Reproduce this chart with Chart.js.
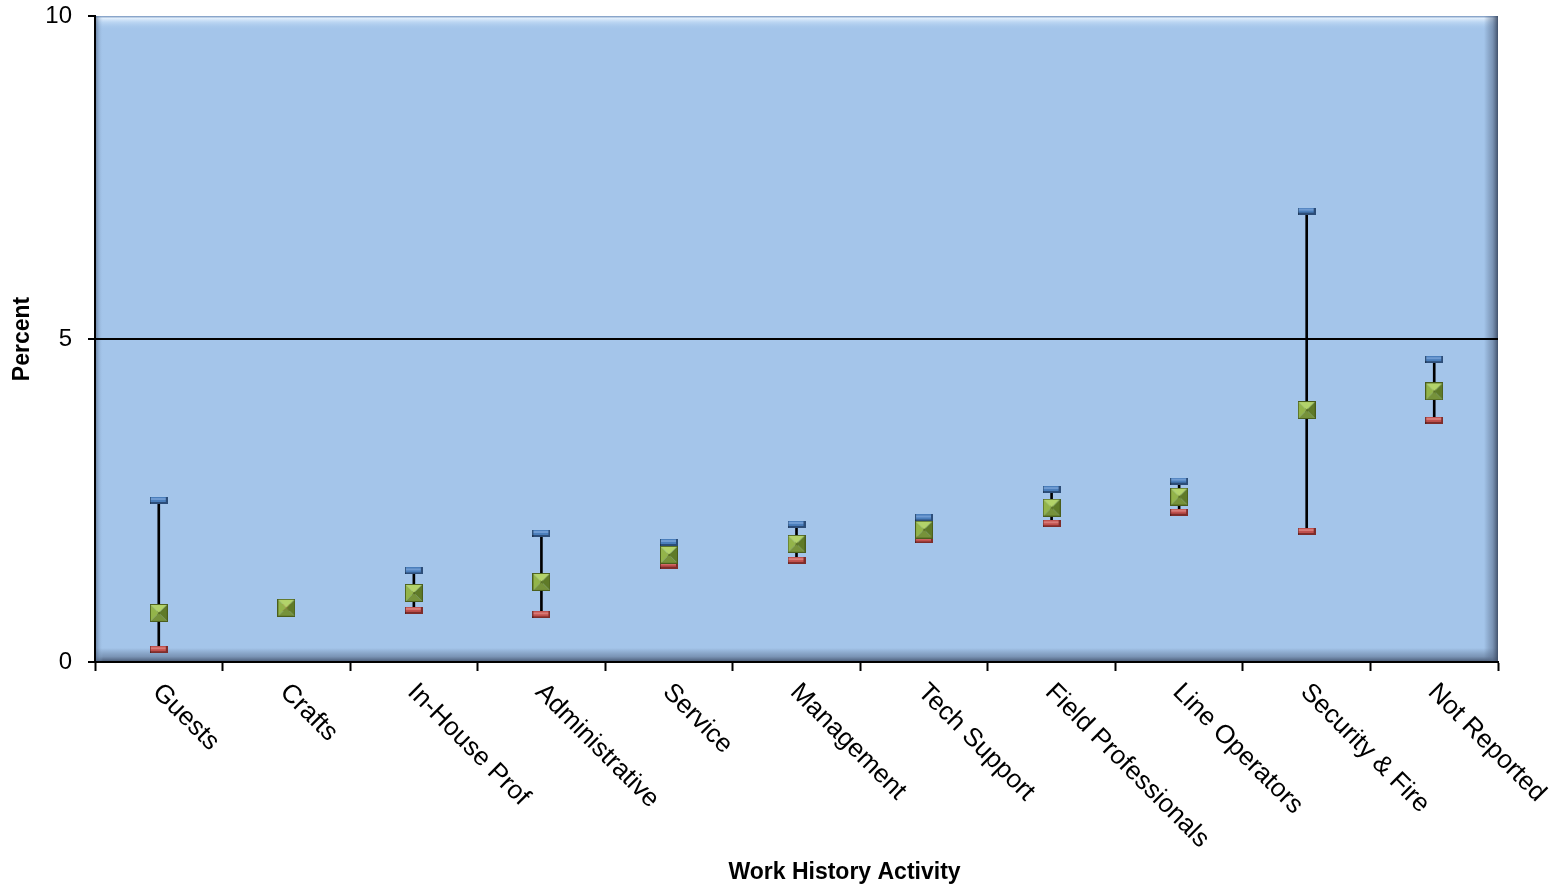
<!DOCTYPE html>
<html>
<head>
<meta charset="utf-8">
<script src="https://cdn.jsdelivr.net/npm/chart.js@4/dist/chart.umd.min.js"></script>
<style>
  html, body { margin: 0; padding: 0; background: #fff; }
  #wrap { width: 1564px; height: 887px; position: relative; }
</style>
</head>
<body>
<div id="wrap"><canvas id="cv"></canvas></div>
<script>
// Work history activity: high / mean / low percent per category
const categories = ["Guests", "Crafts", "In-House Prof", "Administrative", "Service", "Management",
  "Tech Support", "Field Professionals", "Line Operators", "Security & Fire", "Not Reported"];
const highVals = [2.50, 0.84, 1.41, 1.99, 1.85, 2.13, 2.23, 2.67, 2.80, 6.98, 4.68];
const midVals  = [0.76, 0.84, 1.07, 1.24, 1.66, 1.83, 2.05, 2.39, 2.56, 3.90, 4.19];
const lowVals  = [0.19, 0.84, 0.80, 0.73, 1.50, 1.57, 1.89, 2.14, 2.32, 2.02, 3.74];
const yTicks = [0, 5, 10];

const FONT = "Liberation Sans, Arial, sans-serif";

// small bevelled dash used for the high / low marks
function dash(base, light, dark) {
  const c = document.createElement("canvas");
  c.width = 18; c.height = 7;
  const g = c.getContext("2d");
  g.fillStyle = base; g.fillRect(0, 0, 18, 7);
  g.fillStyle = light; g.fillRect(1, 1, 16, 2);
  g.fillStyle = dark; g.fillRect(0, 5, 18, 2);
  g.fillRect(16, 0, 2, 7);
  g.fillStyle = "rgba(0,0,0,0.35)"; g.fillRect(0, 0, 1, 7);
  return c;
}

// pyramid-bevelled square for the mean
function pyramid() {
  const s = 18, c = document.createElement("canvas");
  c.width = s; c.height = s;
  const g = c.getContext("2d");
  const tri = (pts, col) => {
    g.beginPath(); g.moveTo(pts[0], pts[1]);
    for (let i = 2; i < pts.length; i += 2) g.lineTo(pts[i], pts[i + 1]);
    g.closePath(); g.fillStyle = col; g.fill();
  };
  const m = s / 2;
  tri([0, 0, s, 0, m, m], "#b3d36a");
  tri([0, 0, m, m, 0, s], "#93b44a");
  tri([s, 0, s, s, m, m], "#5f7a28");
  tri([0, s, m, m, s, s], "#76923a");
  g.strokeStyle = "#4a5e1c"; g.lineWidth = 1;
  g.strokeRect(0.5, 0.5, s - 1, s - 1);
  return c;
}

const hiMark = dash("#4a7ebb", "#6f9bd2", "#2c4d78");
const loMark = dash("#c0504d", "#d87a77", "#7e2d2b");
const midMark = pyramid();

const plotBg = {
  id: "plotBg",
  beforeDraw(chart) {
    const { ctx, chartArea: a } = chart;
    const w = a.right - a.left, h = a.bottom - a.top;
    ctx.save();
    ctx.fillStyle = "#a4c5ea";
    ctx.fillRect(a.left, a.top, w, h);
    // top highlight
    let gr = ctx.createLinearGradient(0, a.top, 0, a.top + 14);
    gr.addColorStop(0, "rgba(90,120,165,0.6)");
    gr.addColorStop(0.15, "rgba(235,245,255,0.9)");
    gr.addColorStop(0.45, "rgba(210,230,250,0.5)");
    gr.addColorStop(1, "rgba(164,197,234,0)");
    ctx.fillStyle = gr; ctx.fillRect(a.left, a.top, w, 14);
    // bottom shadow
    gr = ctx.createLinearGradient(0, a.bottom - 14, 0, a.bottom);
    gr.addColorStop(0, "rgba(80,100,130,0)");
    gr.addColorStop(0.6, "rgba(90,110,140,0.55)");
    gr.addColorStop(1, "rgba(60,75,100,0.95)");
    ctx.fillStyle = gr; ctx.fillRect(a.left, a.bottom - 14, w, 14);
    // right shadow
    gr = ctx.createLinearGradient(a.right - 14, 0, a.right, 0);
    gr.addColorStop(0, "rgba(80,100,130,0)");
    gr.addColorStop(0.6, "rgba(90,110,140,0.55)");
    gr.addColorStop(1, "rgba(60,75,100,0.95)");
    ctx.fillStyle = gr; ctx.fillRect(a.right - 14, a.top, 14, h);
    // left edge
    gr = ctx.createLinearGradient(a.left, 0, a.left + 8, 0);
    gr.addColorStop(0, "rgba(70,90,120,0.7)");
    gr.addColorStop(1, "rgba(164,197,234,0)");
    ctx.fillStyle = gr; ctx.fillRect(a.left, a.top, 8, h);
    ctx.restore();
  },
  afterDraw(chart) {
    const { ctx, chartArea: a } = chart;
    const x = chart.scales.x;
    ctx.save();
    ctx.fillStyle = "#000";
    ctx.font = "26px " + FONT;
    ctx.textAlign = "left";
    ctx.textBaseline = "top";
    categories.forEach((c, i) => {
      const px = x.getPixelForValue(i);
      ctx.save();
      ctx.translate(px + 7, a.bottom + 17);
      ctx.rotate(Math.PI / 4);
      ctx.fillText(c, 0, 0);
      ctx.restore();
    });
    ctx.font = "bold 23px " + FONT;
    ctx.textAlign = "center";
    ctx.textBaseline = "middle";
    ctx.fillText("Work History Activity", (a.left + a.right) / 2 + 48, 873);
    ctx.restore();
  }
};

new Chart(document.getElementById("cv"), {
  data: {
    labels: categories,
    datasets: [
      {
        type: "bar",
        data: categories.map((_, i) => [lowVals[i], highVals[i]]),
        backgroundColor: "#000",
        barThickness: 2,
        order: 10
      },
      {
        type: "line", label: "High", data: highVals, showLine: false,
        pointStyle: hiMark, pointRadius: 9, order: 3
      },
      {
        type: "line", label: "Low", data: lowVals, showLine: false,
        pointStyle: loMark, pointRadius: 9, order: 2
      },
      {
        type: "line", label: "Mean", data: midVals, showLine: false,
        pointStyle: midMark, pointRadius: 9, order: 1
      }
    ]
  },
  options: {
    responsive: true,
    maintainAspectRatio: false,
    animation: false,
    layout: { padding: { top: 16, right: 66, left: 0, bottom: 0 } },
    plugins: { legend: { display: false }, tooltip: { enabled: false } },
    scales: {
      x: {
        type: "category",
        offset: true,
        grid: { offset: true, drawOnChartArea: false, drawTicks: true, tickLength: 9, tickColor: "#000", tickWidth: 2 },
        border: { color: "#000", width: 2 },
        ticks: { display: false },
        afterFit(s) { s.height = 225; s.paddingLeft = 0; s.paddingRight = 0; }
      },
      y: {
        min: 0, max: 10,
        afterBuildTicks(s) { s.ticks = yTicks.map((v) => ({ value: v })); },
        grid: {
          color: (c) => (c.tick && c.tick.value === 5 ? "#000" : "rgba(0,0,0,0)"),
          lineWidth: 2, tickColor: "#000", tickLength: 7, tickWidth: 2
        },
        border: { color: "#000", width: 2 },
        ticks: { color: "#000", padding: 16, font: { family: FONT, size: 24 } },
        title: {
          display: true, text: "Percent", color: "#000",
          font: { family: FONT, size: 23, weight: "bold" }, padding: { top: 9, bottom: 0 }
        },
        afterFit(s) { s.width = 95; s.paddingTop = 0; s.paddingBottom = 0; }
      }
    }
  },
  plugins: [plotBg]
});
</script>
</body>
</html>
